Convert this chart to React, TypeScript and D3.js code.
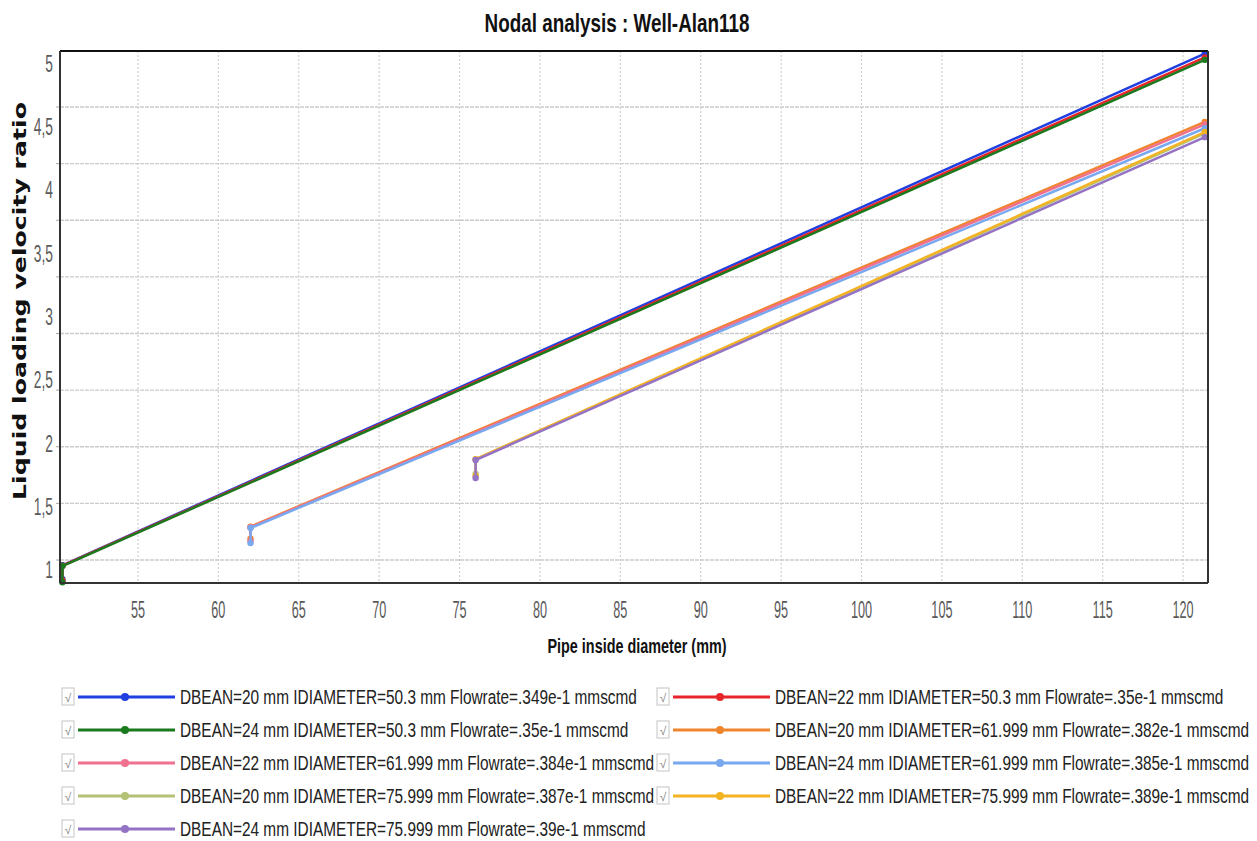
import React from 'react';
import * as d3 from 'd3';

// ---- data ----
const beanSizes = [20, 22, 24, 20, 22, 24, 20, 22, 24];
const innerDiameters = [50.3, 50.3, 50.3, 61.999, 61.999, 61.999, 75.999, 75.999, 75.999];
const flowrates = ['.349e-1', '.35e-1', '.35e-1', '.382e-1', '.384e-1', '.385e-1', '.387e-1', '.389e-1', '.39e-1'];
const startLowRatio = [0.93, 0.92, 0.905, 1.25, 1.23, 1.215, 1.76, 1.745, 1.729];
const startRatio = [1.04, 1.037, 1.034, 1.345, 1.34, 1.334, 1.875, 1.878, 1.871];
const endDiameter = 121.35;
const endRatio = [5.08, 5.05, 5.03, 4.54, 4.52, 4.49, 4.45, 4.46, 4.42];
const seriesColors = ['#1f3fe0', '#e8252b', '#1b7a1e', '#f0852d', '#f0708f', '#78a8ef', '#b3c274', '#f3b323', '#9473c4'];
const xTickValues = [55, 60, 65, 70, 75, 80, 85, 90, 95, 100, 105, 110, 115, 120];
const yTickValues = [1, 1.5, 2, 2.5, 3, 3.5, 4, 4.5, 5];
const yTickLabels = ['1', '1,5', '2', '2,5', '3', '3,5', '4', '4,5', '5'];

const W = 1257;
const H = 841;
const left = 60, right = 1208, top = 51, bottom = 583;

export default function App() {
  const x = d3.scaleLinear().domain([50.15, 121.55]).range([left, right]);
  const y = d3.scaleLinear().domain([0.9, 5.1]).range([bottom, top]);
  const yGrid = d3.scaleLinear().domain([1, 5]).range([560, 107]);

  const line = d3.line<[number, number]>().x(d => x(d[0])).y(d => y(d[1]));

  const series = beanSizes.map((b, i) => ({
    name: `DBEAN=${b} mm IDIAMETER=${innerDiameters[i]} mm Flowrate=${flowrates[i]} mmscmd`,
    color: seriesColors[i],
    points: [
      [innerDiameters[i], startLowRatio[i]],
      [innerDiameters[i], startRatio[i]],
      [endDiameter, endRatio[i]],
    ] as [number, number][],
  }));

  const font = 'Liberation Sans, Arial, sans-serif';
  const legendCols = [62, 657];
  const legendY0 = 697;
  const legendDy = 33;

  return (
    <svg width={W} height={H} style={{ position: 'absolute', left: 0, top: 0, display: 'block', background: '#fff' }}>
      {/* title */}
      <text x={617} y={32} textAnchor="middle" fontFamily={font} fontWeight="bold" fontSize={26}
        textLength={265} lengthAdjust="spacingAndGlyphs" fill="#111">Nodal analysis : Well-Alan118</text>

      {/* vertical grid */}
      {xTickValues.map(v => (
        <line key={'gx' + v} x1={x(v)} x2={x(v)} y1={top} y2={bottom} stroke="#cfcfcf" strokeWidth={1.2} strokeDasharray="2,2" />
      ))}
      {/* horizontal grid */}
      {yTickValues.map(v => (
        <g key={'gy' + v}>
          <line x1={left} x2={right} y1={yGrid(v)} y2={yGrid(v)} stroke="#cbcbcb" strokeWidth={1.3} strokeDasharray="4,1" />
          <line x1={left - 4} x2={left} y1={yGrid(v)} y2={yGrid(v)} stroke="#aaa" strokeWidth={1} />
        </g>
      ))}

      {/* series */}
      {series.map((s, i) => (
        <g key={'s' + i}>
          <path d={line(s.points) || ''} fill="none" stroke={s.color} strokeWidth={2.5} strokeLinejoin="round" />
          {s.points.map((p, j) => (
            <circle key={j} cx={x(p[0])} cy={y(p[1])} r={3.2} fill={s.color} />
          ))}
        </g>
      ))}

      {/* frame */}
      <line x1={left} x2={right} y1={top} y2={top} stroke="#111" strokeWidth={2} />
      <line x1={right} x2={right} y1={top} y2={bottom} stroke="#333" strokeWidth={2} />
      <line x1={left} x2={right} y1={bottom} y2={bottom} stroke="#333" strokeWidth={2} />
      <line x1={left} x2={left} y1={top} y2={bottom} stroke="#333" strokeWidth={2} />

      {/* x tick labels */}
      {xTickValues.map(v => (
        <text key={'tx' + v} transform={`translate(${x(v)},${618}) scale(0.55,1)`} textAnchor="middle"
          fontFamily={font} fontSize={23} fill="#5a5a5a">{v}</text>
      ))}
      {/* y tick labels */}
      {yTickValues.map((v, i) => (
        <text key={'ty' + v} transform={`translate(${53},${y(v)}) scale(0.6,1)`} textAnchor="end" dy="0.35em"
          fontFamily={font} fontSize={23} fill="#5a5a5a">{yTickLabels[i]}</text>
      ))}

      {/* axis titles */}
      <text x={637} y={653} textAnchor="middle" fontFamily={font} fontWeight="bold" fontSize={21}
        textLength={179} lengthAdjust="spacingAndGlyphs" fill="#111">Pipe inside diameter (mm)</text>
      <text transform={`translate(${26},${301}) rotate(-90)`} textAnchor="middle" fontFamily="DejaVu Sans, Verdana, sans-serif"
        fontWeight="bold" fontSize={18} textLength={398} lengthAdjust="spacingAndGlyphs" fill="#111">Liquid loading velocity ratio</text>

      {/* legend */}
      {series.map((s, i) => {
        const cx = legendCols[i % 2];
        const cy = legendY0 + Math.floor(i / 2) * legendDy;
        return (
          <g key={'l' + i}>
            <rect x={cx} y={cy - 9} width={12} height={17} fill="#fff" stroke="#c4c4c4" strokeWidth={1} />
            <text x={cx + 6} y={cy + 5} textAnchor="middle" fontFamily={font} fontSize={12} fill="#888">√</text>
            <line x1={cx + 16} x2={cx + 113} y1={cy} y2={cy} stroke={s.color} strokeWidth={3} />
            <circle cx={cx + 63} cy={cy} r={4} fill={s.color} />
            <text transform={`translate(${cx + 118},${cy + 7}) scale(0.77,1)`} fontFamily={font} fontSize={20} fill="#222">{s.name}</text>
          </g>
        );
      })}
    </svg>
  );
}
